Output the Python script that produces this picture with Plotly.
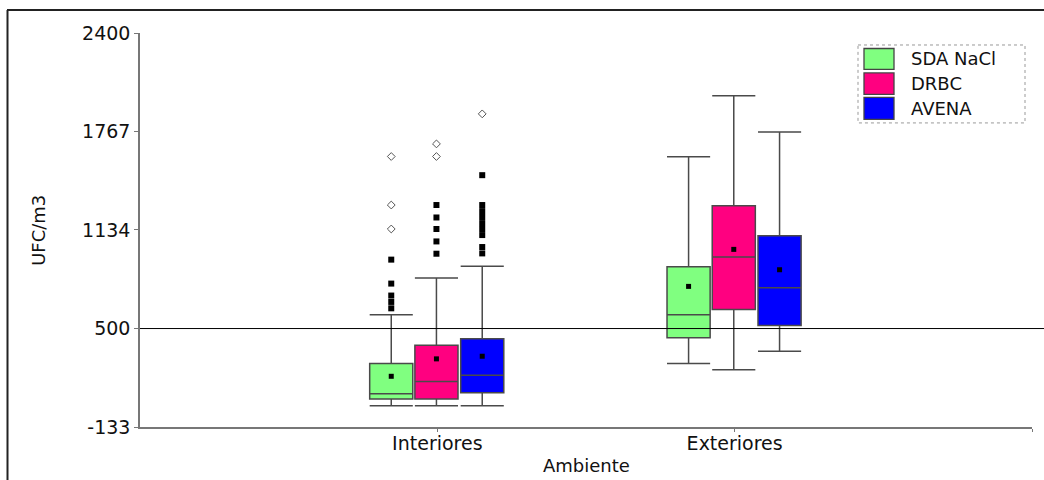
import plotly.graph_objects as go

# ---------------- data ----------------
categories = ["Interiores", "Exteriores"]
series = ["SDA NaCl", "DRBC", "AVENA"]
colors = ["#80FF80", "#FF0080", "#0000FF"]

q1 = {"SDA NaCl": [47, 440], "DRBC": [47, 622], "AVENA": [87, 519]}
median = {"SDA NaCl": [81, 588], "DRBC": [159, 960], "AVENA": [200, 763]}
q3 = {"SDA NaCl": [275, 898], "DRBC": [393, 1289], "AVENA": [434, 1097]}
lower = {"SDA NaCl": [4, 275], "DRBC": [4, 235], "AVENA": [4, 354]}
upper = {"SDA NaCl": [588, 1604], "DRBC": [825, 1997], "AVENA": [900, 1763]}
mean = {"SDA NaCl": [193, 771], "DRBC": [305, 1009], "AVENA": [322, 878]}

# outliers (Interiores only)
near_out = {
    "SDA NaCl": [943, 789, 712, 671, 630],
    "DRBC": [1294, 1214, 1140, 1060, 981],
    "AVENA": [1486, 1294, 1255, 1217, 1178, 1140, 1101, 1024, 983],
}
far_out = {
    "SDA NaCl": [1606, 1294, 1140],
    "DRBC": [1687, 1606],
    "AVENA": [1880],
}

y_ticks = [-133, 500, 1134, 1767, 2400]
reference_line = 500

# ---------------- layout helpers ----------------
W, H = 1044, 480
L, R, T, B = 140, 1032, 33, 427.3
FONT = "DejaVu Sans"

def pxx(p):
    return (p - L) / (R - L)

def pxy(p):
    return (B - p) / (B - T)

offsets = [-0.155, -0.003, 0.151]
box_w = 0.145

fig = go.Figure()

for i, s in enumerate(series):
    xs = [j + 1 + offsets[i] for j in range(len(categories))]
    fig.add_trace(go.Box(
        x=xs, q1=q1[s], median=median[s], q3=q3[s],
        lowerfence=lower[s], upperfence=upper[s],
        width=box_w, whiskerwidth=1,
        fillcolor=colors[i], line=dict(color="#4a4a4a", width=1.5),
        boxpoints=False, name=s, showlegend=False, hoverinfo="skip",
    ))
    fig.add_trace(go.Scatter(
        x=xs, y=mean[s], mode="markers",
        marker=dict(symbol="square", size=5, color="black"),
        showlegend=False, hoverinfo="skip",
    ))
    xo = 1 + offsets[i]
    fig.add_trace(go.Scatter(
        x=[xo] * len(near_out[s]), y=near_out[s], mode="markers",
        marker=dict(symbol="square", size=6, color="black"),
        showlegend=False, hoverinfo="skip",
    ))
    fig.add_trace(go.Scatter(
        x=[xo] * len(far_out[s]), y=far_out[s], mode="markers",
        marker=dict(symbol="diamond-open", size=6, color="#555555",
                    line=dict(width=1)),
        showlegend=False, hoverinfo="skip",
    ))

shapes = []
# reference line at 500
shapes.append(dict(type="line", xref="paper", yref="y", x0=0, x1=pxx(1046),
                   y0=reference_line, y1=reference_line,
                   line=dict(color="black", width=1)))
# outer frame (left & top)
shapes.append(dict(type="line", xref="paper", yref="paper",
                   x0=pxx(7.5), x1=pxx(7.5), y0=pxy(10), y1=pxy(490),
                   line=dict(color="#222222", width=2)))
shapes.append(dict(type="line", xref="paper", yref="paper",
                   x0=pxx(7), x1=pxx(1050), y0=pxy(10), y1=pxy(10),
                   line=dict(color="#222222", width=2)))
# legend box
shapes.append(dict(type="rect", xref="paper", yref="paper",
                   x0=pxx(858), x1=pxx(1025), y0=pxy(45), y1=pxy(123),
                   line=dict(color="#999999", width=1, dash="dot"),
                   fillcolor="white"))
leg_rows = [(48.5, 69.5), (73, 94.5), (97.5, 119.5)]
annotations = []
for i, s in enumerate(series):
    y0, y1 = leg_rows[i]
    shapes.append(dict(type="rect", xref="paper", yref="paper",
                       x0=pxx(864), x1=pxx(894), y0=pxy(y0), y1=pxy(y1),
                       line=dict(color="#444444", width=1.3),
                       fillcolor=colors[i]))
    annotations.append(dict(xref="paper", yref="paper", x=pxx(909),
                            y=pxy((y0 + y1) / 2), text=s, showarrow=False,
                            xanchor="left", yanchor="middle",
                            font=dict(family=FONT, size=18, color="#111111")))

# axis titles
annotations.append(dict(xref="paper", yref="paper", x=pxx(39), y=pxy(231),
                        text="UFC/m3", textangle=-90, showarrow=False,
                        xanchor="center", yanchor="middle",
                        font=dict(family=FONT, size=18, color="#111111")))
annotations.append(dict(xref="paper", yref="paper", x=pxx(586), y=pxy(466),
                        text="Ambiente", showarrow=False,
                        xanchor="center", yanchor="middle",
                        font=dict(family=FONT, size=18, color="#111111")))

fig.update_layout(
    width=W, height=H,
    margin=dict(l=L, r=W - R, t=T, b=H - B, autoexpand=False),
    paper_bgcolor="white", plot_bgcolor="white",
    boxmode="overlay",
    showlegend=False,
    shapes=shapes,
    annotations=annotations,
    xaxis=dict(range=[0, 3], tickvals=[1, 2, 3],
               ticktext=categories + [""],
               showgrid=False, zeroline=False,
               showline=True, linecolor="#777777", linewidth=1.5,
               ticks="outside", ticklen=3, tickcolor="#777777",
               ticklabelstandoff=-5,
               tickfont=dict(family=FONT, size=19, color="#111111")),
    yaxis=dict(range=[-133, 2400], tickvals=y_ticks,
               ticktext=[str(v) for v in y_ticks],
               showgrid=False, zeroline=False,
               showline=True, linecolor="#777777", linewidth=1.5,
               ticks="outside", ticklen=4, tickcolor="#777777",
               tickfont=dict(family=FONT, size=19, color="#111111")),
)

fig.write_html("out.html")
